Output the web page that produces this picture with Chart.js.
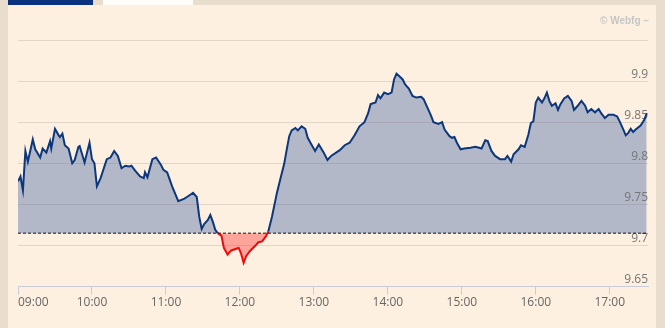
<!DOCTYPE html>
<html><head><meta charset="utf-8">
<script src="https://cdn.jsdelivr.net/npm/chart.js@4.4.0/dist/chart.umd.min.js"></script>
<style>
html,body{margin:0;padding:0;width:665px;height:328px;overflow:hidden;background:#e9ddcd;}
#panel{position:absolute;left:8px;top:5px;width:648px;height:323px;background:#fdf0e0;}
#tab1{position:absolute;left:8px;top:0;width:85px;height:5px;background:#0a3281;}
#tab2{position:absolute;left:103px;top:0;width:90px;height:5px;background:#fffdf8;}
#credit{position:absolute;left:600px;top:15px;font:bold 10px "Liberation Sans",Arial,sans-serif;color:#c6c6c6;white-space:nowrap;}
#c{position:absolute;left:-40px;top:0;}
</style></head>
<body>
<div id="panel"></div><div id="tab1"></div><div id="tab2"></div>
<canvas id="c" width="705" height="328"></canvas>
<div id="credit">© Webfg –</div>
<script>
const times = ['09:00','09:02','09:04','09:06','09:08','09:12','09:14','09:18','09:20','09:23','09:26','09:27','09:30','09:33','09:34','09:36','09:38','09:41','09:44','09:46','09:49','09:50','09:54','09:58',
'10:00','10:02','10:04','10:07','10:12','10:15','10:18','10:21','10:24','10:27','10:30','10:32','10:35','10:39','10:42','10:43','10:45','10:49','10:52','10:56','10:58',
'11:01','11:05','11:10','11:15','11:17','11:20','11:22','11:25','11:27','11:29','11:31','11:34','11:36','11:38','11:40','11:42','11:45','11:47','11:50','11:53','11:57','11:59',
'12:01','12:03','12:05','12:08','12:12','12:15','12:18','12:21','12:23','12:26','12:30','12:33','12:36','12:38','12:40','12:42','12:45','12:47','12:50','12:53','12:55','12:58',
'13:01','13:04','13:08','13:11','13:14','13:18','13:21','13:25','13:29','13:33','13:37','13:41','13:44','13:46','13:50','13:52','13:54','13:57',
'14:00','14:03','14:05','14:07','14:10','14:12','14:14','14:17','14:20','14:23','14:27','14:29','14:32','14:35','14:37','14:41','14:44','14:46','14:50','14:52','14:54','14:56','14:59',
'15:02','15:07','15:11','15:14','15:16','15:19','15:21','15:24','15:27','15:31','15:35','15:37','15:40','15:42','15:46','15:48','15:51','15:54','15:56','15:58',
'16:00','16:02','16:05','16:07','16:09','16:11','16:13','16:16','16:18','16:20','16:23','16:26','16:29','16:31','16:34','16:37','16:40','16:42','16:45','16:48','16:51','16:53','16:56','16:59',
'17:03','17:06','17:08','17:11','17:13','17:15','17:17','17:19','17:21','17:25','17:28','17:30'];
const prices = [9.778,9.784,9.767,9.815,9.802,9.829,9.817,9.807,9.818,9.813,9.827,9.818,9.842,9.834,9.832,9.836,9.822,9.818,9.800,9.804,9.820,9.821,9.801,9.825,
9.805,9.800,9.772,9.782,9.805,9.807,9.815,9.809,9.794,9.797,9.796,9.797,9.791,9.784,9.782,9.789,9.783,9.805,9.807,9.798,9.792,
9.789,9.772,9.754,9.757,9.759,9.762,9.764,9.759,9.735,9.720,9.726,9.731,9.737,9.729,9.719,9.715,9.712,9.697,9.689,9.694,9.696,9.697,
9.690,9.679,9.687,9.693,9.699,9.704,9.705,9.711,9.717,9.735,9.764,9.782,9.800,9.817,9.833,9.840,9.843,9.840,9.845,9.842,9.831,9.823,
9.815,9.823,9.813,9.804,9.809,9.813,9.816,9.822,9.825,9.834,9.845,9.850,9.861,9.872,9.874,9.883,9.879,9.886,
9.884,9.886,9.902,9.909,9.905,9.902,9.896,9.891,9.882,9.880,9.881,9.878,9.868,9.858,9.850,9.848,9.850,9.841,9.833,9.831,9.832,9.825,9.817,
9.818,9.819,9.820,9.819,9.818,9.828,9.827,9.815,9.809,9.805,9.805,9.809,9.802,9.811,9.817,9.822,9.820,9.835,9.849,9.851,
9.874,9.880,9.874,9.879,9.886,9.876,9.870,9.873,9.865,9.872,9.879,9.882,9.876,9.865,9.870,9.876,9.870,9.862,9.866,9.862,9.866,9.861,9.855,9.859,
9.859,9.857,9.851,9.841,9.834,9.837,9.842,9.838,9.841,9.846,9.853,9.861];
const prevClose = 9.715;
const xTickLabels = ['09:00','10:00','11:00','12:00','13:00','14:00','15:00','16:00','17:00'];
const xStart = '09:00';
const xEnd = '17:31';
const yTicks = [9.65,9.7,9.75,9.8,9.85,9.9,9.95];

const NAVY = '#0c377d', RED = '#ee0a0a';
function toMin(s){const p=s.split(':').map(Number);return p[0]*60+p[1];}
const pts = times.map((t,i)=>({x:toMin(t),y:prices[i]}));
const xMin = toMin(xStart), xMax = toMin(xEnd);
const tickVals = xTickLabels.map(toMin).concat([xMax]);
const axisCol = '#c9cbd7';

new Chart(document.getElementById('c'), {
  type:'line',
  data:{datasets:[
    {data:[{x:xMin,y:prevClose},{x:xMax,y:prevClose}],borderColor:'#111',borderWidth:1,borderDash:[3,2],pointRadius:0,fill:false},
    {data:pts,borderWidth:2,pointRadius:0,tension:0,borderColor:NAVY,
     segment:{borderColor:c=>(c.p0.parsed.y<prevClose||c.p1.parsed.y<prevClose)?RED:NAVY},
     fill:{target:{value:prevClose},above:'#b3b8c8',below:'rgba(255,60,60,0.42)'}}
  ]},
  options:{
    responsive:false,animation:false,devicePixelRatio:1,
    layout:{padding:{left:58,right:17,top:40,bottom:17}},
    plugins:{legend:{display:false},tooltip:{enabled:false},filler:{drawTime:'beforeDraw'}},
    scales:{
      x:{type:'linear',min:xMin,max:xMax,
        afterBuildTicks:s=>{s.ticks=tickVals.map(v=>({value:v}));},
        grid:{drawOnChartArea:false,drawTicks:true,tickLength:8,tickColor:c=>c.index===tickVals.length-1?'rgba(0,0,0,0)':axisCol},
        border:{display:true,color:axisCol,width:1},
        ticks:{align:'inner',maxRotation:0,autoSkip:false,padding:1,color:'#666',font:{family:'"Open Sans"',size:12},
          callback:(v,i)=>i<xTickLabels.length?xTickLabels[i]:''}},
      y:{position:'right',min:yTicks[0],max:yTicks[yTicks.length-1],
        afterBuildTicks:s=>{s.ticks=yTicks.map(v=>({value:v}));},
        grid:{drawTicks:false,color:c=>c.index===0?axisCol:'rgba(120,102,106,0.2)'},
        border:{display:false},
        ticks:{mirror:true,padding:0,labelOffset:-7,color:'#777',font:{family:'"Open Sans"',size:12},
          callback:(v,i)=>i===yTicks.length-1?'':String(Math.round(v*100)/100)}}
    }
  }
});
</script>
</body></html>
